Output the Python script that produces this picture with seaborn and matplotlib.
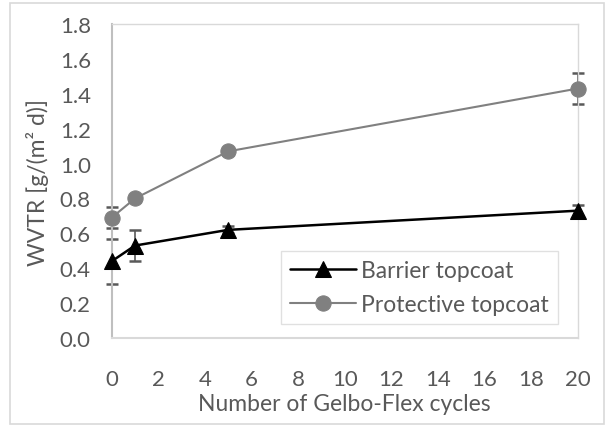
import matplotlib
matplotlib.use("Agg")
import matplotlib.pyplot as plt
import seaborn as sns
import pandas as pd
from matplotlib.patches import Rectangle

cycles = [0, 1, 5, 20]
barrier = [0.44, 0.53, 0.62, 0.73]
barrier_err = [0.13, 0.09, 0.02, 0.03]
protective = [0.69, 0.80, 1.07, 1.43]
protective_err = [0.06, 0.02, 0.02, 0.09]
series_names = ["Barrier topcoat", "Protective topcoat"]
x_ticks = list(range(0, 21, 2))
y_ticks = [0.0, 0.2, 0.4, 0.6, 0.8, 1.0, 1.2, 1.4, 1.6, 1.8]

sns.set_style("white")
plt.rcParams['font.family'] = ['Lato', 'DejaVu Sans']
txt = "#595959"

fig = plt.figure(figsize=(6.05, 4.27), dpi=100)
ax = fig.add_axes([0.1846, 0.206, 0.955 - 0.1846, 0.9415 - 0.206])

df_b = pd.DataFrame({"x": cycles, "y": barrier})
df_p = pd.DataFrame({"x": cycles, "y": protective})

ax.errorbar(cycles, barrier, yerr=barrier_err, fmt="none", ecolor="#595959",
            elinewidth=1.2, capsize=4.5, capthick=1.8, clip_on=False, zorder=2)
ax.errorbar(cycles, protective, yerr=protective_err, fmt="none", ecolor="#595959",
            elinewidth=1.2, capsize=4.5, capthick=1.8, clip_on=False, zorder=2)

sns.lineplot(data=df_b, x="x", y="y", ax=ax, color="black", linewidth=1.8,
             marker="^", markersize=11, markeredgecolor="black",
             markerfacecolor="black", label=series_names[0], clip_on=False, zorder=4)
sns.lineplot(data=df_p, x="x", y="y", ax=ax, color="#808080", linewidth=1.5,
             marker="o", markersize=11, markeredgecolor="#808080",
             markerfacecolor="#808080", label=series_names[1], clip_on=False, zorder=3)

ax.set_xlim(0, 20)
ax.set_ylim(0, 1.8)
ax.set_xticks(x_ticks)
ax.set_yticks(y_ticks)
ax.set_xticklabels([str(t) for t in x_ticks])
ax.set_yticklabels([f"{t:.1f}" for t in y_ticks])
ax.tick_params(axis="both", direction="in", length=5, width=1, color="#bfbfbf",
               labelsize=16, labelcolor=txt)
ax.tick_params(axis="y", pad=15)
ax.tick_params(axis="x", pad=22)

for s in ["top", "right"]:
    ax.spines[s].set_color("#d9d9d9")
    ax.spines[s].set_linewidth(1)
ax.spines["left"].set_color("#bfbfbf")
ax.spines["left"].set_linewidth(1.5)
ax.spines["bottom"].set_color("#d9d9d9")
ax.spines["bottom"].set_linewidth(1.5)

ax.set_xlabel("Number of Gelbo-Flex cycles", fontsize=16.5, color=txt, labelpad=3)
ax.set_ylabel("WVTR [g/(m² d)]", fontsize=16.5, color=txt, labelpad=8)

leg = ax.legend(loc="lower right", bbox_to_anchor=(0.957, 0.045), borderaxespad=0,
                fontsize=16.5, frameon=True, fancybox=False, edgecolor="#d9d9d9",
                handlelength=2.9, handletextpad=0.2, borderpad=0.4,
                labelspacing=0.55)
leg.get_frame().set_linewidth(1)
for t in leg.get_texts():
    t.set_color(txt)

fig.patches.append(Rectangle((0.0165, 0.005), 0.982, 0.986, transform=fig.transFigure,
                             fill=False, edgecolor="#d9d9d9", linewidth=1.2))

fig.savefig("out.png", dpi=100)
